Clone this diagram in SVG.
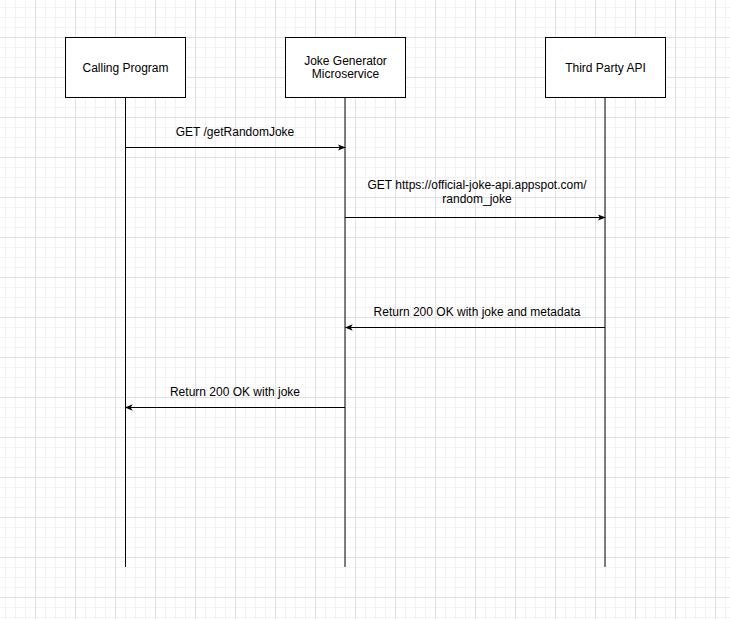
<svg xmlns="http://www.w3.org/2000/svg" width="730" height="619" viewBox="0 0 730 619">
  <style>
    .box { fill: #ffffff; stroke: #000000; stroke-width: 1; }
    .lbl { font-family: "Liberation Sans", Arial, sans-serif; font-size: 12px; fill: #000000; text-anchor: middle; }
    .life { stroke: #000000; stroke-width: 1; fill: none; }
    .msg { stroke: #000000; stroke-width: 1; fill: none; }
  </style>
  <defs>
    <pattern id="grid" patternUnits="userSpaceOnUse" x="35" y="37" width="40" height="40">
      <rect x="0" y="0" width="40" height="40" fill="#ffffff"/>
      <rect x="10" y="0" width="1" height="40" fill="#f3f3f3"/>
      <rect x="20" y="0" width="1" height="40" fill="#f3f3f3"/>
      <rect x="30" y="0" width="1" height="40" fill="#f3f3f3"/>
      <rect x="0" y="10" width="40" height="1" fill="#f3f3f3"/>
      <rect x="0" y="20" width="40" height="1" fill="#f3f3f3"/>
      <rect x="0" y="30" width="40" height="1" fill="#f3f3f3"/>
      <rect x="0" y="0" width="1" height="40" fill="#e0e0e0"/>
      <rect x="0" y="0" width="40" height="1" fill="#e0e0e0"/>
    </pattern>
    <marker id="arrow" viewBox="0 0 10 10" refX="9" refY="5" markerWidth="8" markerHeight="8" markerUnits="userSpaceOnUse" orient="auto">
      <path d="M0,1 L10,5 L0,9 L2.5,5 Z" fill="#000000"/>
    </marker>
  </defs>

  <rect x="0" y="0" width="730" height="619" fill="url(#grid)"/>

  <!-- lifelines -->
  <g id="lifelines">
    <line class="life" x1="125.5" y1="97" x2="125.5" y2="567"/>
    <line class="life" x1="345" y1="97" x2="345" y2="567"/>
    <line class="life" x1="605" y1="97" x2="605" y2="567"/>
  </g>

  <g id="calling-program">
    <rect class="box" x="65.5" y="37.5" width="120" height="60"/>
    <text class="lbl" x="125.5" y="71.5">Calling Program</text>
  </g>

  <g id="joke-generator">
    <rect class="box" x="285.5" y="37.5" width="120" height="60"/>
    <text class="lbl" x="345.5" y="65">Joke Generator</text>
    <text class="lbl" x="345.5" y="78">Microservice</text>
  </g>

  <g id="third-party-api">
    <rect class="box" x="545.5" y="37.5" width="120" height="60"/>
    <text class="lbl" x="605.5" y="71.5">Third Party API</text>
  </g>

  <!-- messages -->
  <g id="connectors">
    <line class="msg" x1="125.5" y1="147.5" x2="345" y2="147.5" marker-end="url(#arrow)"/>
    <text class="lbl" x="235" y="136">GET /getRandomJoke</text>

    <line class="msg" x1="345" y1="217.5" x2="605" y2="217.5" marker-end="url(#arrow)"/>
    <text class="lbl" x="477" y="189">GET https://official-joke-api.appspot.com/</text>
    <text class="lbl" x="477" y="203">random_joke</text>

    <line class="msg" x1="605" y1="327.5" x2="345.5" y2="327.5" marker-end="url(#arrow)"/>
    <text class="lbl" x="477" y="316">Return 200 OK with joke and metadata</text>

    <line class="msg" x1="345" y1="407.5" x2="125.5" y2="407.5" marker-end="url(#arrow)"/>
    <text class="lbl" x="235" y="396">Return 200 OK with joke</text>
  </g>
</svg>
